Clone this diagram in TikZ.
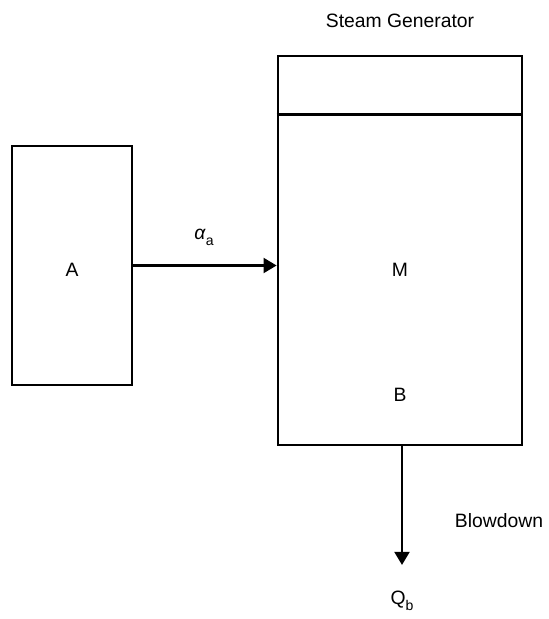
\documentclass[tikz,border=0pt]{standalone}
\usepackage{fontspec}
\setmainfont{Liberation Sans}
\usetikzlibrary{arrows.meta,positioning,calc}

\begin{document}
\begin{tikzpicture}[line join=miter,
  every node/.style={font=\fontsize{11}{13}\selectfont},
  blk/.style={draw,line width=1.5pt,inner sep=0pt},
  flow/.style={line width=1.5pt,-{Triangle[length=7.5pt,width=8.5pt]}}]
\useasboundingbox (0,0) rectangle (10.98,-12.38);
% source box and steam generator
\node[blk,minimum width=2.4cm,minimum height=4.78cm] (a) at (1.44,-5.31) {};
\node[blk,minimum width=4.88cm,minimum height=7.78cm] (sg) at (8.0,-5.01) {};
\draw[line width=1.5pt] ($(sg.north west)+(0,-1.2)$) -- ($(sg.north east)+(0,-1.2)$);
% labels
\node (alab) at (1.44,-5.40) {A};
\node (mlab) at (8.0,-5.40) {M};
\node (blab) at (8.0,-7.90) {B};
\node (title) at (8.0,-0.42) {Steam Generator};
\node (alpha) at (4.08,-4.74) {\textit{α}\raisebox{-0.6ex}{\footnotesize a}};
\node (bdlab) at (9.98,-10.42) {Blowdown};
\node (qb) at (8.04,-12.02) {Q\raisebox{-0.6ex}{\footnotesize b}};
\coordinate (bdend) at (8.04,-11.30);
% flows
\draw[flow] (a.east) -- (a.east -| sg.west);
\draw[flow] (sg.south -| bdend) -- (bdend);
\end{tikzpicture}
\end{document}
